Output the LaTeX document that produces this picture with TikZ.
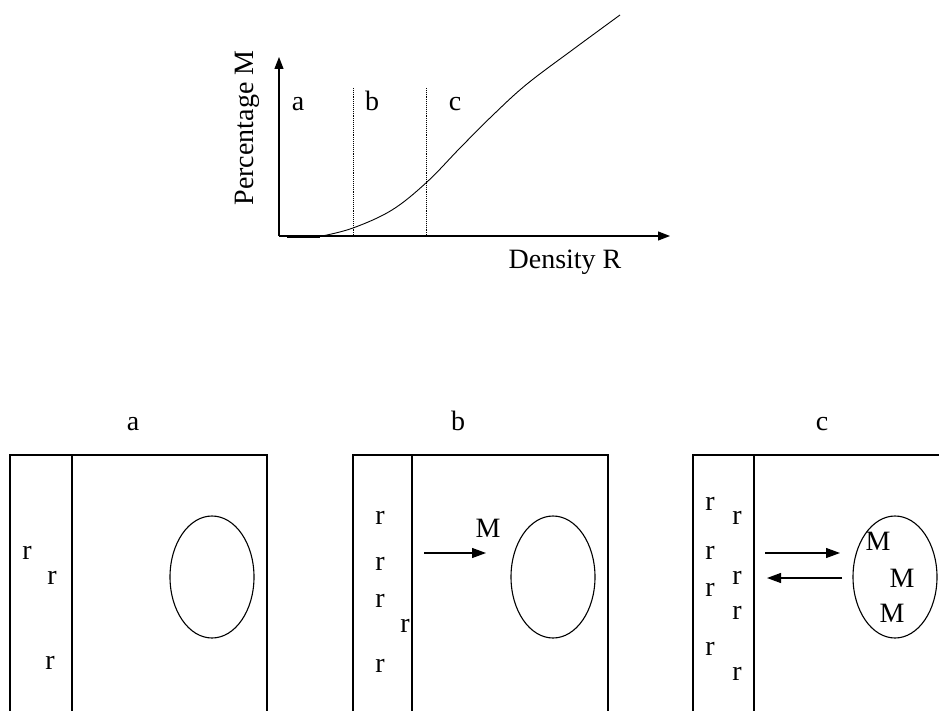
\documentclass[tikz,border=0pt]{standalone}
\usepackage{fontspec}
\setmainfont{Liberation Serif}
\usetikzlibrary{arrows.meta,shapes.geometric}
\begin{document}
\begin{tikzpicture}[x=1pt,y=-1pt,
  txt/.style={inner sep=0pt,text height=19.6pt,text depth=5.6pt,font=\fontsize{28}{32}\selectfont},
  axisline/.style={line width=1.2pt,-{Triangle[length=12pt,width=9pt]}},
  flow/.style={line width=1.2pt,-{Triangle[length=14pt,width=10pt]}},
  panel/.style={line width=1.2pt},
  cell/.style={draw,line width=1.1pt,ellipse,minimum width=84pt,minimum height=122pt,inner sep=0pt},
  guide/.style={densely dotted,line width=0.9pt}]
\useasboundingbox (0,0) rectangle (939,711);
\clip (0,0) rectangle (939,711);
% ---- graph ----
\coordinate (O) at (279,236);
\coordinate (ytip) at (279,57);
\coordinate (xtip) at (670,236);
\draw[axisline] (O) -- (ytip);
\draw[axisline] (O) -- (xtip);
\draw[guide] (353,88) -- (353,236);
\draw[guide] (426,88) -- (426,236);
\draw[line width=3pt] (287,236.5) -- (320,236.5);
\draw[line width=0.9pt] plot[smooth,tension=0.6] coordinates {(322,236) (353,228) (392,210) (427,182) (460,148) (493,115) (527,84) (575,48) (620,15)};
\node[txt] (la) at (298,104) {a};
\node[txt] (lb) at (372,104) {b};
\node[txt] (lc) at (455,104) {c};
\node[txt,rotate=90] (ylab) at (246,128) {Percentage M};
\node[txt] (xlab) at (565,262) {Density R};
% ---- panel a ----
\node[txt] (pa) at (133,423) {a};
\draw[panel] (10,720) -- (10,455) -- (267,455) -- (267,720);
\draw[panel] (72,455) -- (72,720);
\node[cell] (ea) at (212,577) {};
\node[txt] (ra1) at (27,552) {r};
\node[txt] (ra2) at (52,577) {r};
\node[txt] (ra3) at (50,662) {r};
% ---- panel b ----
\node[txt] (pb) at (458,423) {b};
\draw[panel] (353,720) -- (353,455) -- (608,455) -- (608,720);
\draw[panel] (412,455) -- (412,720);
\node[cell] (eb) at (553,577) {};
\coordinate (bs) at (424,553);
\coordinate (be) at (486,553);
\draw[flow] (bs) -- (be);
\node[txt] (mb) at (488,530) {M};
\node[txt] (rb1) at (380,517) {r};
\node[txt] (rb2) at (380,563) {r};
\node[txt] (rb3) at (380,600) {r};
\node[txt] (rb4) at (405,625) {r};
\node[txt] (rb5) at (380,665) {r};
% ---- panel c ----
\node[txt] (pc) at (822,423) {c};
\draw[panel] (693,720) -- (693,455) -- (950,455);
\draw[panel] (754,455) -- (754,720);
\node[cell] (ec) at (895,577) {};
\coordinate (cs1) at (765,553);
\coordinate (ce1) at (840,553);
\coordinate (cs2) at (842,578);
\coordinate (ce2) at (767,578);
\draw[flow] (cs1) -- (ce1);
\draw[flow] (cs2) -- (ce2);
\node[txt] (mc1) at (878,543) {M};
\node[txt] (mc2) at (902,580) {M};
\node[txt] (mc3) at (892,615) {M};
\node[txt] (rc1) at (710,503) {r};
\node[txt] (rc2) at (737,517) {r};
\node[txt] (rc3) at (710,552) {r};
\node[txt] (rc4) at (737,577) {r};
\node[txt] (rc5) at (710,589) {r};
\node[txt] (rc6) at (737,612) {r};
\node[txt] (rc7) at (710,648) {r};
\node[txt] (rc8) at (737,673) {r};
\end{tikzpicture}
\end{document}
